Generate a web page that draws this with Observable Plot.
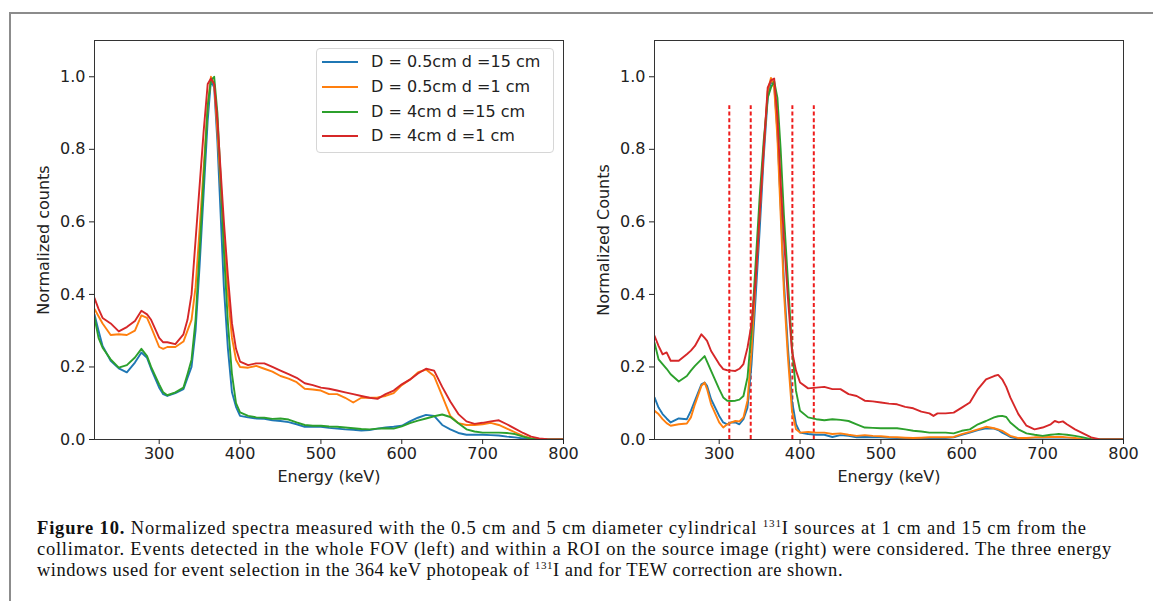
<!DOCTYPE html>
<html>
<head>
<meta charset="utf-8">
<script src="https://cdn.jsdelivr.net/npm/d3@7"></script>
<script src="https://cdn.jsdelivr.net/npm/@observablehq/plot@0.6"></script>
<style>
  html, body { margin: 0; padding: 0; background: #fff; width: 1153px; height: 601px; overflow: hidden; }
  #page { position: relative; width: 1153px; height: 601px; }
  #border { position: absolute; left: 9px; top: 12px; width: 1200px; height: 700px; border-left: 2px solid #8c8c8c; border-top: 2px solid #8c8c8c; }
  .chart { position: absolute; top: 0; }
  #legend { position: absolute; left: 316px; top: 48px; width: 236px; height: 103px; border: 1px solid #d6d6d6; border-radius: 4px; background: rgba(255,255,255,0.85); font-family: "DejaVu Sans"; font-size: 16px; color: #222; }
  .lrow { position: absolute; left: 0; height: 20px; white-space: nowrap; }
  .lrow svg { position: absolute; left: 5px; top: 0; }
  .lrow span { position: absolute; left: 54px; top: 0; line-height: 20px; }
  #caption { position: absolute; left: 37px; top: 518px; font-family: "Liberation Serif"; font-size: 18.5px; line-height: 21px; color: #111; white-space: nowrap; }
  #caption .cl { display: block; width: max-content; }
  #caption sup { font-size: 0.6em; vertical-align: 0.6em; line-height: 0; }
</style>
</head>
<body>
<div id="page">
  <div id="border"></div>
  <div id="left" class="chart" style="left:0px"></div>
  <div id="right" class="chart" style="left:560px"></div>
  <div id="legend"></div>
  <div id="caption"><span class="cl" data-w="1050"><b>Figure 10.</b> Normalized spectra measured with the 0.5 cm and 5 cm diameter cylindrical <sup>131</sup>I sources at 1 cm and 15 cm from the</span><span class="cl" data-w="1075">collimator. Events detected in the whole FOV (left) and within a ROI on the source image (right) were considered. The three energy</span><span class="cl" data-w="806">windows used for event selection in the 364 keV photopeak of <sup>131</sup>I and for TEW correction are shown.</span></div>
</div>
<script>
// ---------- data ----------
const seriesNames = ["D = 0.5cm d =15 cm", "D = 0.5cm d =1 cm", "D = 4cm d =15 cm", "D = 4cm d =1 cm"];
const seriesColors = ["#1f77b4", "#ff7f0e", "#2ca02c", "#d62728"];
const xTicks = [300, 400, 500, 600, 700, 800];
const yTicks = [0, 0.2, 0.4, 0.6, 0.8, 1.0];
const xDomain = [220, 800];
const yDomain = [0, 1.1];

// Left panel: whole FOV
const energyLeft = [
  220,225,230,240,250,260,270,278,285,290,
  300,305,310,320,330,335,340,345,350,355,
  360,364,368,372,376,380,385,390,395,400,
  410,420,430,440,450,460,470,480,490,500,
  510,520,530,540,550,560,570,580,590,600,
  610,620,630,640,650,660,670,680,690,700,
  710,720,730,740,750,760,770,780,790,800];
const leftBlue = [
  0.345,0.30,0.258,0.217,0.196,0.185,0.212,0.24,0.225,0.195,
  0.143,0.125,0.12,0.128,0.139,0.17,0.20,0.30,0.48,0.68,
  0.88,0.99,0.97,0.82,0.62,0.42,0.25,0.13,0.09,0.065,
  0.061,0.058,0.057,0.053,0.051,0.048,0.042,0.035,0.036,0.035,
  0.032,0.03,0.028,0.027,0.025,0.026,0.03,0.033,0.035,0.038,
  0.05,0.06,0.068,0.065,0.04,0.028,0.018,0.013,0.013,0.013,
  0.012,0.011,0.008,0.006,0.003,0,0,0,0,0];
const leftOrange = [
  0.36,0.34,0.32,0.288,0.29,0.288,0.30,0.342,0.335,0.31,
  0.255,0.25,0.255,0.255,0.27,0.30,0.33,0.42,0.58,0.75,
  0.92,1.0,0.98,0.85,0.70,0.55,0.40,0.28,0.22,0.20,
  0.198,0.203,0.195,0.187,0.175,0.168,0.158,0.14,0.138,0.135,
  0.125,0.125,0.115,0.102,0.115,0.115,0.116,0.12,0.128,0.15,
  0.165,0.185,0.193,0.175,0.12,0.065,0.045,0.04,0.04,0.042,
  0.046,0.04,0.03,0.02,0.01,0.003,0.001,0,0,0];
const leftGreen = [
  0.336,0.28,0.253,0.221,0.198,0.205,0.226,0.25,0.23,0.20,
  0.152,0.13,0.122,0.13,0.143,0.18,0.22,0.33,0.52,0.72,
  0.92,0.99,1.0,0.90,0.72,0.52,0.32,0.18,0.10,0.075,
  0.065,0.061,0.06,0.057,0.058,0.055,0.047,0.04,0.038,0.038,
  0.036,0.035,0.033,0.031,0.029,0.028,0.03,0.031,0.03,0.036,
  0.045,0.052,0.058,0.064,0.069,0.062,0.045,0.028,0.022,0.019,
  0.019,0.019,0.018,0.015,0.008,0.002,0,0,0,0];
const leftRed = [
  0.39,0.36,0.335,0.32,0.298,0.31,0.327,0.355,0.345,0.33,
  0.28,0.268,0.268,0.263,0.29,0.33,0.40,0.55,0.70,0.85,
  0.98,0.995,0.98,0.88,0.74,0.60,0.45,0.32,0.25,0.215,
  0.205,0.21,0.21,0.20,0.19,0.18,0.17,0.155,0.15,0.143,
  0.14,0.135,0.13,0.125,0.12,0.115,0.112,0.125,0.135,0.152,
  0.165,0.182,0.195,0.19,0.145,0.105,0.07,0.05,0.043,0.046,
  0.05,0.053,0.042,0.03,0.018,0.008,0.003,0.001,0,0];

// Right panel: ROI on the source image
const energyRight = [
  220,225,230,235,240,250,260,265,270,278,
  282,285,290,300,305,310,315,320,325,330,
  335,340,345,350,355,360,364,368,372,376,
  380,385,390,395,400,410,420,430,440,450,
  460,470,480,490,500,510,520,530,540,550,
  560,565,570,580,590,600,610,620,630,640,
  645,650,655,660,670,680,690,700,710,715,
  720,725,730,740,750,760,770,780,790,800];
const rightBlue = [
  0.116,0.088,0.07,0.058,0.047,0.058,0.056,0.079,0.107,0.152,
  0.157,0.148,0.111,0.065,0.047,0.042,0.047,0.047,0.042,0.056,
  0.088,0.208,0.39,0.575,0.777,0.942,0.988,0.978,0.85,0.648,
  0.437,0.253,0.107,0.042,0.019,0.015,0.013,0.013,0.007,0.012,
  0.01,0.006,0.007,0.006,0.006,0.005,0.004,0.003,0.002,0.002,
  0.003,0.003,0.003,0.004,0.006,0.013,0.019,0.026,0.031,0.03,
  0.026,0.019,0.013,0.007,0.002,0.001,0,0,0,0,
  0,0,0,0,0,0,0,0,0,0];
const rightOrange = [
  0.079,0.07,0.056,0.045,0.038,0.042,0.044,0.061,0.097,0.148,
  0.157,0.139,0.097,0.047,0.033,0.042,0.047,0.051,0.05,0.061,
  0.107,0.244,0.437,0.62,0.80,0.96,0.997,0.97,0.832,0.62,
  0.41,0.226,0.079,0.028,0.019,0.021,0.019,0.019,0.015,0.017,
  0.013,0.01,0.012,0.01,0.009,0.007,0.006,0.005,0.004,0.005,
  0.006,0.006,0.006,0.006,0.007,0.015,0.021,0.028,0.035,0.031,
  0.028,0.024,0.017,0.01,0.004,0.004,0.006,0.006,0.007,0.007,
  0.007,0.007,0.006,0.004,0.001,0,0,0,0,0];
const rightGreen = [
  0.267,0.221,0.208,0.195,0.18,0.16,0.175,0.19,0.203,0.221,
  0.23,0.215,0.189,0.139,0.116,0.107,0.106,0.107,0.11,0.12,
  0.171,0.30,0.483,0.667,0.823,0.942,0.97,0.988,0.942,0.80,
  0.62,0.437,0.253,0.134,0.079,0.061,0.056,0.053,0.056,0.054,
  0.051,0.042,0.033,0.032,0.031,0.031,0.031,0.028,0.024,0.022,
  0.019,0.019,0.019,0.019,0.017,0.024,0.028,0.042,0.051,0.061,
  0.064,0.065,0.062,0.047,0.028,0.017,0.013,0.01,0.013,0.014,
  0.015,0.014,0.013,0.01,0.006,0.001,0,0,0,0];
const rightRed = [
  0.286,0.258,0.235,0.24,0.217,0.217,0.235,0.245,0.258,0.29,
  0.28,0.272,0.244,0.208,0.194,0.191,0.19,0.189,0.195,0.208,
  0.253,0.318,0.437,0.62,0.80,0.97,0.99,0.995,0.89,0.71,
  0.556,0.39,0.244,0.19,0.157,0.141,0.143,0.145,0.139,0.139,
  0.125,0.12,0.107,0.105,0.102,0.099,0.097,0.09,0.086,0.077,
  0.072,0.065,0.072,0.072,0.074,0.088,0.102,0.139,0.166,0.175,
  0.178,0.166,0.145,0.116,0.07,0.038,0.028,0.033,0.042,0.051,
  0.047,0.05,0.042,0.028,0.017,0.006,0.001,0,0,0];

// Energy window edges (keV) shown in the right panel, and their height
const windowEdges = [312.5, 339, 390.5, 417];
const windowTop = 0.92;

// ---------- build ----------
function longTable(energies, series) {
  const rows = [];
  series.forEach((vals, i) => {
    vals.forEach((v, j) => rows.push({E: energies[j], v, s: seriesNames[i]}));
  });
  return rows;
}

function chart(energies, series, yLabel, withWindows) {
  const data = longTable(energies, series);
  const marks = [];
  if (withWindows) {
    marks.push(Plot.ruleX(windowEdges, {x: d => d, y1: 0, y2: windowTop, stroke: "#ee1c1c", strokeWidth: 2, strokeDasharray: "4,2.6"}));
  }
  marks.push(Plot.line(data, {x: "E", y: "v", z: "s", stroke: "s", strokeWidth: 1.9, clip: true}));
  marks.push(Plot.frame({stroke: "#333", strokeWidth: 1}));
  marks.push(Plot.axisX({ticks: xTicks, tickSize: 5, tickPadding: 3, tickFormat: d => String(d),
    label: "Energy (keV)", labelAnchor: "center", labelArrow: "none", labelOffset: 42}));
  marks.push(Plot.axisY({ticks: yTicks, tickSize: 5, tickPadding: 4, tickFormat: d3.format(".1f"),
    label: yLabel, labelAnchor: "center", labelArrow: "none", labelOffset: 57}));
  return Plot.plot({
    width: 580, height: 500,
    marginLeft: 94, marginRight: 17, marginTop: 40, marginBottom: 61,
    style: {fontFamily: "DejaVu Sans", fontSize: "16px", color: "#222", background: "transparent", overflow: "visible"},
    x: {domain: xDomain},
    y: {domain: yDomain},
    color: {domain: seriesNames, range: seriesColors},
    marks
  });
}

document.getElementById("left").appendChild(
  chart(energyLeft, [leftBlue, leftOrange, leftGreen, leftRed], "Normalized counts", false));
document.getElementById("right").appendChild(
  chart(energyRight, [rightBlue, rightOrange, rightGreen, rightRed], "Normalized Counts", true));

// legend (left panel)
const legend = document.getElementById("legend");
seriesNames.forEach((name, i) => {
  const row = document.createElement("div");
  row.className = "lrow";
  row.style.top = (3 + i * 24.8) + "px";
  row.innerHTML = `<svg width="40" height="20"><line x1="0" x2="36" y1="10" y2="10" stroke="${seriesColors[i]}" stroke-width="2"/></svg><span>${name}</span>`;
  legend.appendChild(row);
});

// stretch caption lines to the justified widths of the original
document.querySelectorAll("#caption .cl").forEach(el => {
  const target = +el.dataset.w;
  const w = el.getBoundingClientRect().width;
  const n = el.textContent.length;
  el.style.letterSpacing = ((target - w) / n).toFixed(3) + "px";
});
</script>
</body>
</html>
